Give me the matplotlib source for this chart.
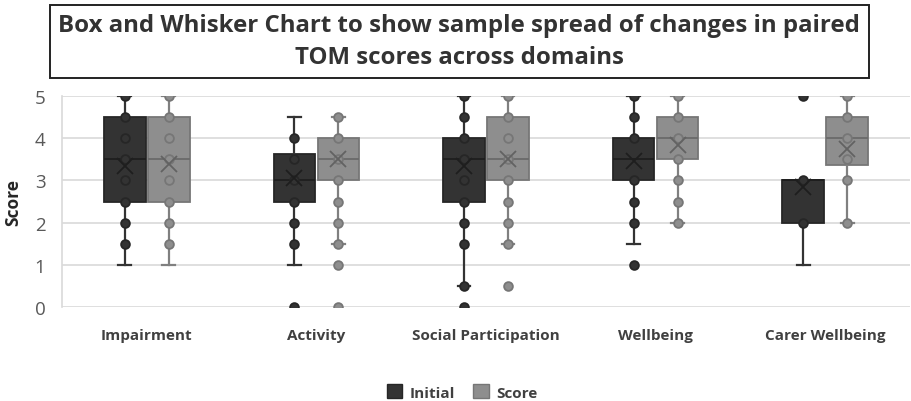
import matplotlib
matplotlib.use("Agg")
import matplotlib.pyplot as plt
from matplotlib.patches import Patch, Rectangle

plt.rcParams['font.family'] = ['Open Sans', 'DejaVu Sans']

categories = ["Impairment", "Activity", "Social Participation", "Wellbeing", "Carer Wellbeing"]
series_names = ["Initial", "Score"]

init_low = [1, 1, 0.5, 1.5, 1]
init_q1 = [2.5, 2.5, 2.5, 3, 2]
init_med = [3.5, 3, 3.5, 3.5, 3]
init_q3 = [4.5, 3.625, 4, 4, 3]
init_high = [5, 4.5, 5, 5, 3]
init_mean = [3.35, 3.05, 3.35, 3.45, 2.85]
init_points = [[5, 4.5, 4, 3.5, 3, 2.5, 2, 1.5],
               [4, 3.5, 3, 2.5, 2, 1.5],
               [5, 4.5, 4, 3.5, 3, 2.5, 2, 1.5, 0.5],
               [5, 4.5, 4, 3, 2.5, 2],
               [3, 2]]
init_outliers = [[], [0], [0], [1], [5]]

score_low = [1, 1.5, 1.5, 2, 2]
score_q1 = [2.5, 3, 3, 3.5, 3.375]
score_med = [3.5, 3.5, 3.5, 4, 4]
score_q3 = [4.5, 4, 4.5, 4.5, 4.5]
score_high = [5, 4.5, 5, 5, 5]
score_mean = [3.4, 3.5, 3.5, 3.85, 3.75]
score_points = [[5, 4.5, 4, 3.5, 3, 2.5, 2, 1.5],
                [4.5, 4, 3.5, 3, 2.5, 2, 1.5],
                [5, 4.5, 4, 3.5, 3, 2.5, 2, 1.5],
                [5, 4.5, 4, 3.5, 3, 2.5, 2],
                [5, 4.5, 4, 3.5, 3, 2]]
score_outliers = [[], [1, 0], [0.5], [], []]

title = "Box and Whisker Chart to show sample spread of changes in paired\nTOM scores across domains"

W, H = 912, 402
fig = plt.figure(figsize=(W / 100, H / 100), dpi=100)
ax = fig.add_axes([62 / W, 1 - 308 / H, (910 - 62) / W, (308 - 97) / H])

styles = [
    dict(face="#333333", edge="#262626", line="#333333", mean="#1e1e1e", med="#1e1e1e", off=-0.13),
    dict(face="#8e8e8e", edge="#767676", line="#808080", mean="#626262", med="#6a6a6a", off=0.13),
]
series = [
    (init_low, init_q1, init_med, init_q3, init_high, init_mean, init_points, init_outliers),
    (score_low, score_q1, score_med, score_q3, score_high, score_mean, score_points, score_outliers),
]

width = 0.245
for st, (lo, q1, med, q3, hi, mean, pts, outs) in zip(styles, series):
    stats = []
    for i in range(len(categories)):
        stats.append(dict(whislo=lo[i], q1=q1[i], med=med[i], q3=q3[i], whishi=hi[i],
                          mean=mean[i], fliers=[]))
    pos = [i + st["off"] for i in range(len(categories))]
    ax.bxp(stats, positions=pos, widths=width, patch_artist=True, showmeans=False,
           showfliers=False, capwidths=0.075,
           boxprops=dict(facecolor=st["face"], edgecolor=st["edge"], linewidth=1.3),
           medianprops=dict(color=st["med"], linewidth=1.3),
           whiskerprops=dict(color=st["line"], linewidth=1.6),
           capprops=dict(color=st["line"], linewidth=1.6), zorder=3)
    for i in range(len(categories)):
        p = pos[i]
        ax.plot([p] * len(pts[i]), pts[i], "o", ms=6.3, mfc=st["face"], mec=st["edge"],
                mew=1.3, zorder=4, linestyle="none")
        if outs[i]:
            ax.plot([p] * len(outs[i]), outs[i], "o", ms=6.3, mfc=st["face"], mec=st["edge"],
                    mew=1.3, zorder=4, linestyle="none")
        ax.plot([p], [mean[i]], marker="x", ms=11, mew=1.3, color=st["mean"], zorder=5,
                linestyle="none")

ax.set_xlim(-0.5, len(categories) - 0.5)
ax.set_ylim(0, 5)
ax.set_yticks(range(0, 6))
ax.set_xticks(range(len(categories)))
ax.set_xticklabels(categories, fontsize=11, fontweight="bold", color="#404040")
ax.tick_params(axis="x", length=0, pad=15)
ax.tick_params(axis="y", length=0, labelsize=13.5, labelcolor="#595959", pad=12)
ax.yaxis.grid(True, color="#d9d9d9", linewidth=1.2, zorder=0)
ax.set_axisbelow(True)
for s in ["top", "right", "bottom"]:
    ax.spines[s].set_visible(False)
ax.spines["left"].set_color("#d9d9d9")
ax.spines["left"].set_linewidth(1.2)
ax.set_ylabel("Score", fontsize=12.5, fontweight="bold", color="#262626", labelpad=9)

fig.patches.append(Rectangle((50 / W, 1 - 79 / H), (869 - 50) / W, (79 - 6) / H,
                             transform=fig.transFigure, facecolor="white",
                             edgecolor="#222222", linewidth=1.4, zorder=1))
fig.text(459 / W, 1 - 42 / H, title, ha="center", va="center", fontsize=17.3,
         fontweight="bold", color="#333333", linespacing=1.4, zorder=2)

handles = [Patch(facecolor=styles[0]["face"], edgecolor=styles[0]["edge"], label=series_names[0]),
           Patch(facecolor=styles[1]["face"], edgecolor=styles[1]["edge"], label=series_names[1])]
fig.legend(handles=handles, loc="center", bbox_to_anchor=(462 / W, 1 - 393 / H), ncol=2,
           frameon=False, prop=dict(size=11, weight="bold"), handlelength=1.0, handleheight=1.0,
           columnspacing=1.2, handletextpad=0.5, labelcolor="#404040")

fig.savefig("out.png", dpi=100)
